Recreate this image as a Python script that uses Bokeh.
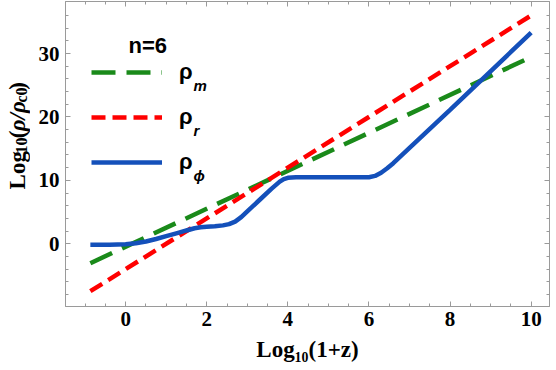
import numpy as np
from bokeh.plotting import figure
from bokeh.layouts import row
from bokeh.models import Range1d, LinearAxis, FixedTicker, Legend, LegendItem, Label
from bokeh.embed import file_html
from bokeh.resources import INLINE

# ---- data ----
x_lines = [-0.87, 10.0]
rho_m = [-3.06, 29.45]
rho_r = [-7.48, 36.0]

x_phi = [-0.87, -0.4, 0.0, 0.25, 0.5, 0.75, 1.0, 1.25, 1.5, 1.7, 1.85, 2.0, 2.2, 2.4,
         2.55, 2.7, 2.85, 3.0, 3.3, 3.6, 3.8, 3.9, 4.0, 4.2, 6.0, 6.15, 6.3, 6.45,
         6.6, 8.0, 10.0]
rho_phi = [-0.15, -0.15, -0.08, 0.08, 0.35, 0.75, 1.2, 1.65, 2.1, 2.45, 2.6, 2.7,
           2.75, 2.9, 3.1, 3.5, 4.2, 5.1, 6.9, 8.7, 9.8, 10.2, 10.4, 10.5, 10.5,
           10.7, 11.2, 11.9, 12.7, 21.1, 33.3]

x_major = [0, 2, 4, 6, 8, 10]
x_minor = [-1, -0.5, 0.5, 1, 1.5, 2.5, 3, 3.5, 4.5, 5, 5.5, 6.5, 7, 7.5, 8.5, 9, 9.5, 10]
y_major = [0, 10, 20, 30]
y_minor = [-8, -6, -4, -2, 2, 4, 6, 8, 12, 14, 16, 18, 22, 24, 26, 28, 32, 34, 36]

x_title = "Log₁₀(1+z)"

GREEN = "#1a8a1a"
RED = "#ff0000"
BLUE = "#1450ba"
AXC = "#9a9a9a"

W_Y = 30      # width of the y-title strip
H = 370
W_ALL = 556

p = figure(width=W_ALL - W_Y, height=H, output_backend="svg", toolbar_location=None,
           x_range=Range1d(-1.483, 10.452), y_range=Range1d(-9.89, 38.2),
           min_border_left=35, min_border_right=7, min_border_top=1, min_border_bottom=64)
p.background_fill_color = "white"
p.border_fill_color = "white"
p.outline_line_color = AXC
p.xgrid.visible = False
p.ygrid.visible = False

def style_axis(ax, major, minor, show_labels, standoff):
    ax.ticker = FixedTicker(ticks=major, minor_ticks=minor)
    ax.axis_line_color = AXC
    ax.major_tick_line_color = AXC
    ax.minor_tick_line_color = AXC
    ax.major_tick_in = 5
    ax.major_tick_out = 0
    ax.minor_tick_in = 3
    ax.minor_tick_out = 0
    if show_labels:
        ax.major_label_text_font = "Liberation Serif"
        ax.major_label_text_font_style = "bold"
        ax.major_label_text_font_size = "21px"
        ax.major_label_text_color = "black"
        ax.major_label_standoff = standoff
    else:
        ax.major_label_overrides = {t: "" for t in major}
        ax.major_label_text_font_size = "1px"
        ax.major_label_standoff = 0

style_axis(p.xaxis[0], x_major, x_minor, True, 5)
style_axis(p.yaxis[0], y_major, y_minor, True, 6)
p.xaxis.axis_label = x_title
p.xaxis.axis_label_text_font = "Liberation Serif"
p.xaxis.axis_label_text_font_style = "bold"
p.xaxis.axis_label_text_font_size = "23px"
p.xaxis.axis_label_text_color = "black"
p.xaxis.axis_label_standoff = 8

top_ax = LinearAxis()
right_ax = LinearAxis()
style_axis(top_ax, x_major, x_minor, False, 0)
style_axis(right_ax, y_major, y_minor, False, 0)
p.add_layout(top_ax, "above")
p.add_layout(right_ax, "right")

r_m = p.line(x_lines, rho_m, line_color=GREEN, line_width=4.5, line_dash="24 11")
r_r = p.line(x_lines, rho_r, line_color=RED, line_width=4.5, line_dash="14 7")
r_p = p.line(x_phi, rho_phi, line_color=BLUE, line_width=4.5)

legend = Legend(items=[LegendItem(label="ρ", renderers=[r_m]),
                       LegendItem(label="ρ", renderers=[r_r]),
                       LegendItem(label="ρ", renderers=[r_p])],
                location=(26, 131), glyph_width=71, glyph_height=26, label_height=26,
                spacing=19, label_standoff=17, padding=0, margin=0,
                background_fill_alpha=0, border_line_alpha=0,
                label_text_font="Liberation Sans", label_text_font_style="bold",
                label_text_font_size="22px", label_text_color="black")
p.add_layout(legend, "center")

FL, FB = 65 - W_Y, 306  # frame left / bottom inside the main figure

def lab(fig, text, sx, sy, size, style="bold", font="Liberation Serif", angle=0.0,
        units="screen"):
    fig.add_layout(Label(x=sx, y=sy, x_units=units, y_units=units,
                         text=text, text_font=font, text_font_style=style,
                         text_font_size=size, text_color="black", angle=angle,
                         text_align="left", text_baseline="alphabetic"))

def plab(text, px, py, size, style="bold", font="Liberation Sans"):
    lab(p, text, px - W_Y - FL, FB - py, size, style, font)

# legend title and subscripts (page coordinates)
plab("n=6", 128, 45, "22px")
plab("m", 193, 85, "15px", style="bold italic")
plab("r", 193, 130, "15px", style="bold italic")
plab("ϕ", 193, 175, "15px", style="bold italic")

# y-title strip
yfig = figure(width=W_Y, height=H, output_backend="svg", toolbar_location=None,
              x_range=Range1d(0, W_Y), y_range=Range1d(0, H),
              x_axis_location=None, y_axis_location=None, min_border=0,
              outline_line_color=None)
yfig.xgrid.visible = False
yfig.ygrid.visible = False
a = np.pi / 2
def ylab(text, px, py, size, style="bold"):
    lab(yfig, text, px, H - py, size, style, "Liberation Serif", a, "data")
ylab("Log", 17, 228, "23px")
ylab("10", 21, 184.5, "16px")
ylab("(", 17, 166, "23px")
ylab("ρ/ρ", 17, 157.5, "23px", style="bold italic")
ylab("c0", 21, 122.5, "16px")
ylab(")", 17, 107, "23px")

layout = row(yfig, p, spacing=0)
open("out.html", "w").write(file_html(layout, INLINE))
